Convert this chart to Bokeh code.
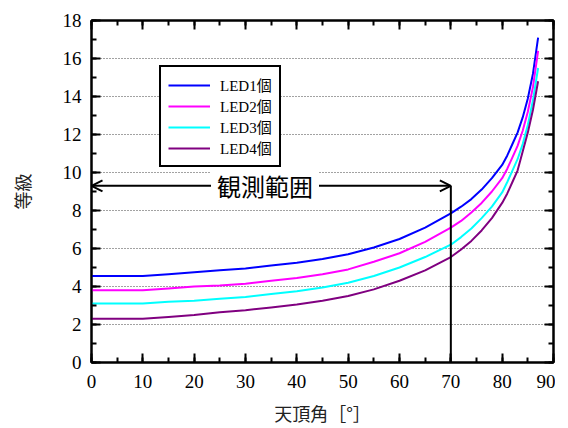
from bokeh.plotting import figure
from bokeh.models import (Range1d, LinearAxis, SingleIntervalTicker, Legend, LegendItem,
                          Label, Arrow, OpenHead, CustomJSTickFormatter)
from bokeh.embed import file_html
from bokeh.resources import INLINE

# ---- data ----
zenith = [0, 5, 10, 15, 20, 25, 30, 35, 40, 45, 50, 55, 60, 65, 70, 72, 74, 76, 78, 80,
          81, 82, 83, 84, 85, 86, 87]
led1 = [4.55, 4.55, 4.55, 4.65, 4.75, 4.85, 4.95, 5.1, 5.25, 5.45, 5.7, 6.05, 6.5, 7.1, 7.85,
        8.2, 8.6, 9.1, 9.7, 10.4, 10.9, 11.5, 12.1, 12.9, 13.9, 15.2, 17.1]
led2 = [3.8, 3.8, 3.8, 3.9, 4.0, 4.05, 4.15, 4.3, 4.45, 4.65, 4.9, 5.3, 5.75, 6.35, 7.1,
        7.45, 7.9, 8.4, 9.0, 9.7, 10.2, 10.8, 11.4, 12.2, 13.2, 14.5, 16.4]
led3 = [3.1, 3.1, 3.1, 3.2, 3.25, 3.35, 3.45, 3.6, 3.75, 3.95, 4.2, 4.55, 5.0, 5.55, 6.2,
        6.6, 7.05, 7.6, 8.2, 8.95, 9.5, 10.1, 10.7, 11.5, 12.5, 13.8, 15.5]
led4 = [2.3, 2.3, 2.3, 2.4, 2.5, 2.65, 2.75, 2.9, 3.05, 3.25, 3.5, 3.85, 4.3, 4.85, 5.55,
        5.95, 6.4, 6.95, 7.6, 8.4, 8.9, 9.5, 10.1, 11.1, 12.1, 13.3, 14.8]
series_names = ["LED1個", "LED2個", "LED3個", "LED4個"]
series_colors = ["#0000FF", "#FF00FF", "#00FFFF", "#800080"]
x_label = "天頂角［°］"
y_label = "等級"
obs_text = "観測範囲"
obs_start, obs_end, obs_level = 0, 70, 9.3
obs_text_x = 33.8

SERIF = "'Liberation Serif', 'Times New Roman', serif"
CJK = "'Noto Sans CJK JP'"
LEG_FONT = "'Liberation Serif', 'Noto Sans CJK JP'"

p = figure(width=555, height=430, output_backend="svg", toolbar_location=None,
           x_range=Range1d(0, 90), y_range=Range1d(0, 18),
           min_border_left=91, min_border_right=2, min_border_top=20, min_border_bottom=68,
           background_fill_color="white", border_fill_color="white")

p.outline_line_color = "black"
p.outline_line_width = 2

for ax, interval in ((p.xaxis[0], 10), (p.yaxis[0], 2)):
    ax.ticker = SingleIntervalTicker(interval=interval, num_minor_ticks=2)
    ax.axis_line_width = 2
    ax.axis_line_color = "black"
    ax.major_tick_in = 9
    ax.major_tick_out = 0
    ax.minor_tick_in = 5
    ax.minor_tick_out = 0
    ax.major_tick_line_width = 2
    ax.minor_tick_line_width = 2
    ax.major_tick_line_color = "black"
    ax.minor_tick_line_color = "black"
    ax.major_label_text_font = SERIF
    ax.major_label_text_font_size = "19px"
    ax.major_label_text_color = "black"
    ax.axis_label_text_font = CJK
    ax.axis_label_text_font_size = "18px"
    ax.axis_label_text_font_style = "normal"
    ax.axis_label_text_color = "#222222"

p.xaxis.axis_label = x_label
p.yaxis.axis_label = y_label
p.xaxis.major_label_standoff = 12
p.yaxis.major_label_standoff = 10
p.xaxis.axis_label_standoff = 9
p.yaxis.axis_label_standoff = 25

for loc, interval in (("right", 2), ("above", 10)):
    ax = LinearAxis(ticker=SingleIntervalTicker(interval=interval, num_minor_ticks=2),
                    formatter=CustomJSTickFormatter(code="return ''"))
    ax.axis_line_width = 2
    ax.major_tick_in = 9
    ax.major_tick_out = 0
    ax.minor_tick_in = 5
    ax.minor_tick_out = 0
    ax.major_tick_line_width = 2
    ax.minor_tick_line_width = 2
    ax.major_label_standoff = 0
    p.add_layout(ax, loc)

p.xgrid.visible = False
p.ygrid.grid_line_color = "#444444"
p.ygrid.grid_line_dash = "1 2"
p.ygrid.grid_line_width = 1

items = []
for name, ys, col in zip(series_names, [led1, led2, led3, led4], series_colors):
    r = p.line(zenith, ys, line_color=col, line_width=2)
    items.append(LegendItem(label=name, renderers=[r]))

legend = Legend(items=items, location=(68, 195))
legend.border_line_color = "black"
legend.border_line_alpha = 1.0
legend.border_line_width = 2
legend.background_fill_color = "white"
legend.background_fill_alpha = 1
legend.label_text_font = LEG_FONT
legend.label_text_font_size = "15px"
legend.label_text_color = "black"
legend.label_height = 16
legend.glyph_height = 16
legend.glyph_width = 42
legend.label_standoff = 10
legend.spacing = 0
legend.padding = 7
legend.margin = 0
p.add_layout(legend, "center")

arrow = Arrow(start=OpenHead(size=11, line_width=2), end=OpenHead(size=11, line_width=2),
              x_start=obs_start, y_start=obs_level, x_end=obs_end, y_end=obs_level,
              line_width=2, line_color="black")
p.add_layout(arrow)
p.segment(x0=[obs_end], y0=[obs_level], x1=[obs_end], y1=[0], line_color="black", line_width=2)

lab = Label(x=obs_text_x, y=obs_level, text=obs_text, text_align="center", text_baseline="middle",
            text_font=CJK, text_font_size="24px", text_color="black",
            background_fill_color="white", padding=6)
p.add_layout(lab)

open("out.html", "w").write(file_html(p, INLINE))
